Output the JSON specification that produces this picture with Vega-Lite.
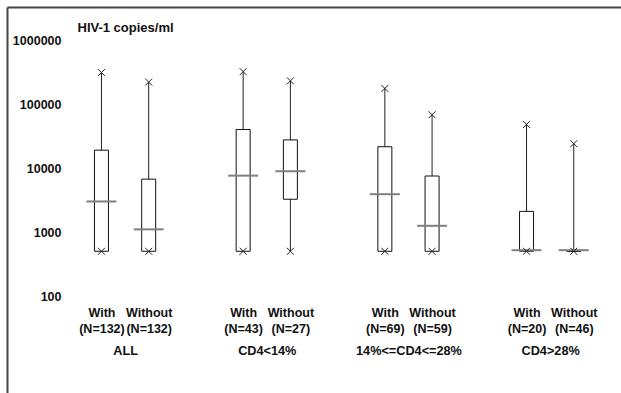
{
  "$schema": "https://vega.github.io/schema/vega-lite/v6.json",
  "width": 614,
  "height": 386,
  "autosize": {"type": "none"},
  "padding": {"left": 7, "top": 7, "right": 0, "bottom": 0},
  "background": "white",
  "config": {
    "view": {"stroke": null},
    "font": "Liberation Sans",
    "axisY": {
      "orient": "left",
      "ticks": false, "tickSize": 0, "labelPadding": -54, "labelFontSize": 12.5, "labelFontWeight": "bold",
      "labelColor": "#111", "labelBaseline": "middle", "labelAlign": "right", "labelOverlap": false, "labelFlush": false,
      "domain": true, "domainColor": "#444", "domainWidth": 2,
      "grid": true, "gridColor": "#444", "gridWidth": 2,
      "titleAngle": 0, "titleAlign": "left", "titleBaseline": "middle",
      "titleX": 70, "titleY": 20, "titleFontSize": 13, "titleFontWeight": "bold", "titleColor": "#111"
    }
  },
  "data": {
    "values": [
      {"group": "ALL", "type": "With", "n": 132, "min": 500, "q1": 500, "median": 3000, "q3": 19000, "max": 310000},
      {"group": "ALL", "type": "Without", "n": 132, "min": 500, "q1": 500, "median": 1100, "q3": 6700, "max": 220000},
      {"group": "CD4<14%", "type": "With", "n": 43, "min": 500, "q1": 500, "median": 7600, "q3": 40000, "max": 320000},
      {"group": "CD4<14%", "type": "Without", "n": 27, "min": 500, "q1": 3250, "median": 8900, "q3": 27500, "max": 230000},
      {"group": "14%<=CD4<=28%", "type": "With", "n": 69, "min": 500, "q1": 500, "median": 3900, "q3": 21500, "max": 175000},
      {"group": "14%<=CD4<=28%", "type": "Without", "n": 59, "min": 500, "q1": 500, "median": 1250, "q3": 7500, "max": 68000},
      {"group": "CD4>28%", "type": "With", "n": 20, "min": 500, "q1": 500, "median": 520, "q3": 2100, "max": 48000},
      {"group": "CD4>28%", "type": "Without", "n": 46, "min": 500, "q1": 500, "median": 520, "q3": 500, "max": 24000}
    ]
  },
  "transform": [{"calculate": "datum.group + '|' + datum.type + '|' + datum.n", "as": "key"}],
  "resolve": {"axis": {"x": "independent", "y": "shared"}},
  "layer": [
    {
      "mark": {"type": "rule", "color": "#222", "strokeWidth": 1},
      "encoding": {
        "x": {
          "field": "key", "type": "nominal",
          "scale": {"type": "point", "padding": 0, "domain": ["s0", "s1", "ALL|With|132", "ALL|Without|132", "s2", "CD4<14%|With|43", "CD4<14%|Without|27", "s3", "14%<=CD4<=28%|With|69", "14%<=CD4<=28%|Without|59", "s4", "CD4>28%|With|20", "CD4>28%|Without|46", "s5"]},
          "axis": {
            "orient": "bottom", "offset": -86.4, "domain": false, "ticks": false, "tickSize": 0, "labelPadding": 0,
            "labelAngle": 0, "labelAlign": "center", "labelBaseline": "top", "labelOverlap": false, "labelFlush": false,
            "labelExpr": "indexof(datum.value, '|') < 0 ? '' : [split(datum.value, '|')[1], '(N=' + split(datum.value, '|')[2] + ')']",
            "labelFontSize": 12.5, "labelFontWeight": "bold", "labelLineHeight": 16, "labelColor": "#111", "title": null, "grid": false
          }
        },
        "y": {
          "field": "min", "type": "quantitative",
          "scale": {"type": "log", "domain": [3.05, 3280000], "nice": false, "zero": false},
          "axis": {
            "values": [100, 1000, 10000, 100000, 1000000, 3280000],
            "labelExpr": "datum.value > 2000000 ? '' : format(datum.value, 'd')",
            "gridOpacity": {"condition": {"test": "datum.value > 2000000", "value": 1}, "value": 0},
            "title": "HIV-1 copies/ml"
          }
        },
        "y2": {"field": "max"}
      }
    },
    {
      "mark": {"type": "bar", "size": 14, "fill": "white", "stroke": "#111", "strokeWidth": 1},
      "encoding": {
        "x": {
          "field": "key", "type": "nominal",
          "axis": {
            "orient": "bottom", "offset": -48.4, "domain": false, "ticks": false, "tickSize": 0, "labelPadding": 0,
            "labelAngle": 0, "labelAlign": "center", "labelBaseline": "top", "labelOverlap": false, "labelFlush": false,
            "labelOffset": 23.6,
            "labelExpr": "indexof(datum.value, '|With|') < 0 ? '' : split(datum.value, '|')[0]",
            "labelFontSize": 12.7, "labelFontWeight": "bold", "labelColor": "#111", "title": null, "grid": false
          }
        },
        "y": {"field": "q1", "type": "quantitative", "axis": {"values": [100, 1000, 10000, 100000, 1000000, 3280000], "labelExpr": "datum.value > 2000000 ? '' : format(datum.value, 'd')", "gridOpacity": {"condition": {"test": "datum.value > 2000000", "value": 1}, "value": 0}, "title": "HIV-1 copies/ml"}},
        "y2": {"field": "q3"}
      }
    },
    {
      "mark": {"type": "tick", "size": 30, "thickness": 2, "color": "#808080", "opacity": 1},
      "encoding": {
        "x": {"field": "key", "type": "nominal", "axis": null},
        "y": {"field": "median", "type": "quantitative", "axis": {"values": [100, 1000, 10000, 100000, 1000000, 3280000], "labelExpr": "datum.value > 2000000 ? '' : format(datum.value, 'd')", "gridOpacity": {"condition": {"test": "datum.value > 2000000", "value": 1}, "value": 0}, "title": "HIV-1 copies/ml"}}
      }
    },
    {
      "mark": {"type": "point", "shape": "M-1,-1L1,1M-1,1L1,-1", "filled": false, "size": 49, "stroke": "#222", "strokeWidth": 1, "opacity": 1},
      "encoding": {
        "x": {"field": "key", "type": "nominal", "axis": null},
        "y": {"field": "max", "type": "quantitative", "axis": {"values": [100, 1000, 10000, 100000, 1000000, 3280000], "labelExpr": "datum.value > 2000000 ? '' : format(datum.value, 'd')", "gridOpacity": {"condition": {"test": "datum.value > 2000000", "value": 1}, "value": 0}, "title": "HIV-1 copies/ml"}}
      }
    },
    {
      "mark": {"type": "point", "shape": "M-1,-1L1,1M-1,1L1,-1", "filled": false, "size": 49, "stroke": "#222", "strokeWidth": 1, "opacity": 1},
      "encoding": {
        "x": {"field": "key", "type": "nominal", "axis": null},
        "y": {"field": "min", "type": "quantitative", "axis": {"values": [100, 1000, 10000, 100000, 1000000, 3280000], "labelExpr": "datum.value > 2000000 ? '' : format(datum.value, 'd')", "gridOpacity": {"condition": {"test": "datum.value > 2000000", "value": 1}, "value": 0}, "title": "HIV-1 copies/ml"}}
      }
    }
  ]
}
